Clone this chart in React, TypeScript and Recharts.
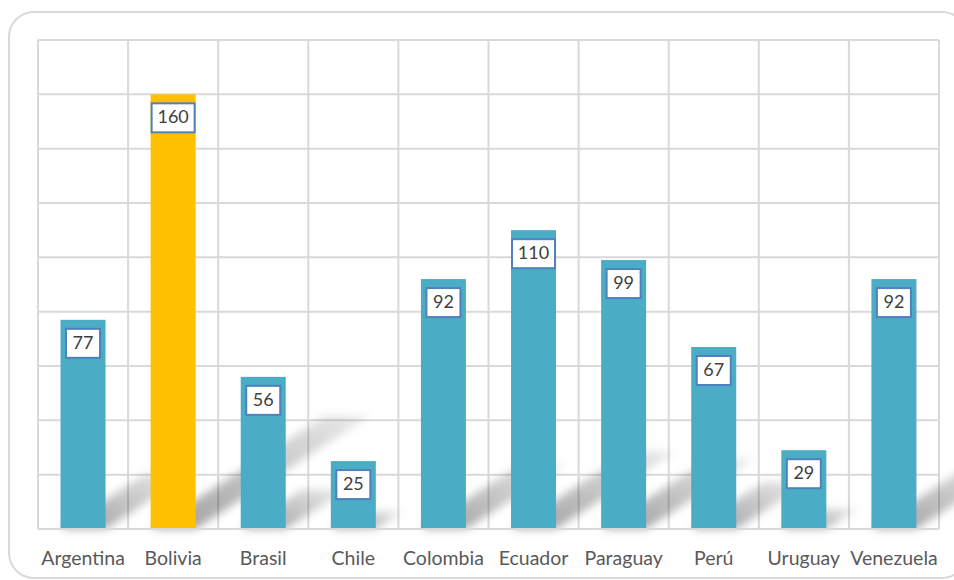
import React from "react";
import { BarChart, Bar, XAxis, YAxis, CartesianGrid, Cell, LabelList } from "recharts";

const countries = ["Argentina", "Bolivia", "Brasil", "Chile", "Colombia", "Ecuador", "Paraguay", "Perú", "Uruguay", "Venezuela"];
const values = [77, 160, 56, 25, 92, 110, 99, 67, 29, 92];
const highlight = ["Bolivia"];
const yTicks = [0, 20, 40, 60, 80, 100, 120, 140, 160, 180];

const data = countries.map((name, i) => ({ name, value: values[i] }));

const TEAL = "#4BACC6";
const GOLD = "#FFC000";
const GRID = "#D9D9D9";

const ShadowBar = (props: any) => {
  const { x, y, width, height, fill, index } = props;
  if (height <= 0) return null;
  const by = y + height;
  const dx = height * 0.4;
  const dy = height * 0.26;
  const gid = `sg${index}`;
  const fid = `sf${index}`;
  const pts = `${x},${by} ${x + width},${by} ${x + width + dx},${by - dy} ${x + dx},${by - dy}`;
  return (
    <g>
      <defs>
        <linearGradient id={gid} x1="0" y1="1" x2="1" y2="0">
          <stop offset="0%" stopColor="#000" stopOpacity={0.38} />
          <stop offset="100%" stopColor="#000" stopOpacity={0.08} />
        </linearGradient>
        <filter id={fid} x="-50%" y="-50%" width="200%" height="200%">
          <feGaussianBlur stdDeviation={4} />
        </filter>
      </defs>
      <polygon points={pts} fill={`url(#${gid})`} filter={`url(#${fid})`} />
      <rect x={x} y={y} width={width} height={height} fill={fill} />
    </g>
  );
};

const ValueLabel = (props: any) => {
  const { x, y, width, value } = props;
  const txt = String(value);
  const w = 16 + txt.length * 9;
  const h = 29;
  const cx = x + width / 2;
  const top = y + 9;
  return (
    <g>
      <rect x={cx - w / 2} y={top} width={w} height={h} fill="#FFFFFF" stroke="#4F81BD" strokeWidth={2} />
      <text x={cx} y={top + h / 2 + 1} textAnchor="middle" dominantBaseline="middle" fontFamily="Lato, 'Open Sans', sans-serif" fontSize={18} fill="#404040">
        {txt}
      </text>
    </g>
  );
};

export default function App() {
  const vGen = ({ offset }: any) => {
    const n = countries.length;
    const out: number[] = [];
    for (let i = 0; i <= n; i++) out.push(offset.left + (i * offset.width) / n);
    return out;
  };
  return (
    <div style={{ position: "absolute", left: 0, top: 0, width: 954, height: 580, background: "#fff", overflow: "hidden" }}>
      <div
        style={{
          position: "absolute",
          left: 8,
          top: 11,
          width: 960,
          height: 568,
          border: `2px solid ${GRID}`,
          borderRadius: 26,
          boxSizing: "border-box",
        }}
      />
      <div style={{ position: "absolute", left: 0, top: 0 }}>
        <BarChart
          width={954}
          height={580}
          data={data}
          margin={{ top: 40, right: 15, bottom: 0, left: 38 }}
          barCategoryGap="25%"
        >
          <CartesianGrid stroke={GRID} strokeWidth={2} verticalCoordinatesGenerator={vGen} />
          <YAxis hide domain={[0, 180]} ticks={yTicks} width={0} />
          <XAxis
            dataKey="name"
            height={51}
            axisLine={{ stroke: GRID, strokeWidth: 2 }}
            tickLine={false}
            tickSize={0}
            tickMargin={22}
            tick={{ fill: "#595959", fontSize: 19.5, fontFamily: "Lato, 'Open Sans', sans-serif" }}
            interval={0}
          />
          <Bar dataKey="value" isAnimationActive={false} shape={<ShadowBar />}>
            {data.map((d, i) => (
              <Cell key={i} fill={highlight.includes(d.name) ? GOLD : TEAL} />
            ))}
            <LabelList dataKey="value" content={<ValueLabel />} />
          </Bar>
        </BarChart>
      </div>
    </div>
  );
}
